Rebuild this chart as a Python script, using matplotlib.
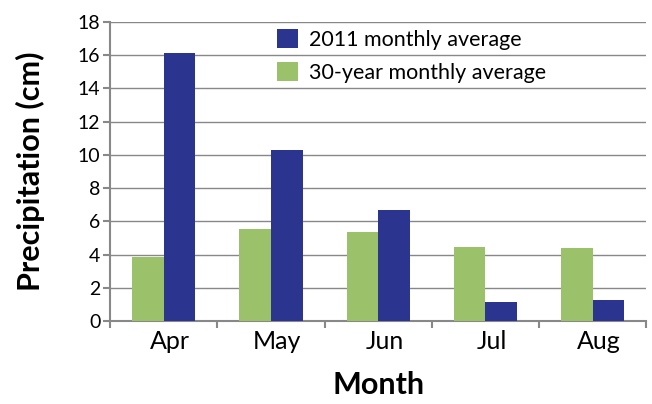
import numpy as np
import matplotlib
matplotlib.use('Agg')
import matplotlib.pyplot as plt

months = ['Apr', 'May', 'Jun', 'Jul', 'Aug']
avg_30yr = [3.85, 5.55, 5.35, 4.45, 4.4]
avg_2011 = [16.1, 10.3, 6.7, 1.15, 1.3]

plt.rcParams['font.family'] = ['Lato', 'DejaVu Sans']

fig = plt.figure(figsize=(6.52, 4.04), dpi=100)
ax = fig.add_axes([0.169, 0.205, 0.822, 0.741])

x = np.arange(len(months))
w = 0.295
ax.bar(x - w / 2, avg_30yr, w, color='#9bc26a', label='30-year monthly average', zorder=3)
ax.bar(x + w / 2, avg_2011, w, color='#2b3590', label='2011 monthly average', zorder=3)

ax.set_xlim(-0.5, len(months) - 0.5)
ax.set_ylim(0, 18)
ax.set_yticks(range(0, 19, 2))
ax.yaxis.grid(True, color='#888888', linewidth=1)
ax.set_axisbelow(True)

ax.set_xticks(x + 0.06)
ax.set_xticklabels(months, fontsize=18)
ax.tick_params(axis='x', length=0, pad=6)
ax.set_xticks(np.arange(-0.5, len(months), 1), minor=True)
ax.tick_params(axis='x', which='minor', length=5, color='#888888', width=1.5)
ax.tick_params(axis='y', labelsize=14, length=5, color='#888888', width=1.5, pad=2)

for s in ['top', 'right']:
    ax.spines[s].set_visible(False)
for s in ['left', 'bottom']:
    ax.spines[s].set_color('#888888')
    ax.spines[s].set_linewidth(1.5)

ax.set_ylabel('Precipitation (cm)', fontsize=22, fontweight='bold', labelpad=24)
ax.set_xlabel('Month', fontsize=22, fontweight='bold', labelpad=13)

h, l = ax.get_legend_handles_labels()
ax.legend(h[::-1], l[::-1], loc='upper left', bbox_to_anchor=(0.275, 1.04),
          frameon=False, fontsize=15.5, handlelength=1.0, handleheight=1.0,
          handletextpad=0.5, labelspacing=0.55)

fig.savefig('out.png', dpi=100)
